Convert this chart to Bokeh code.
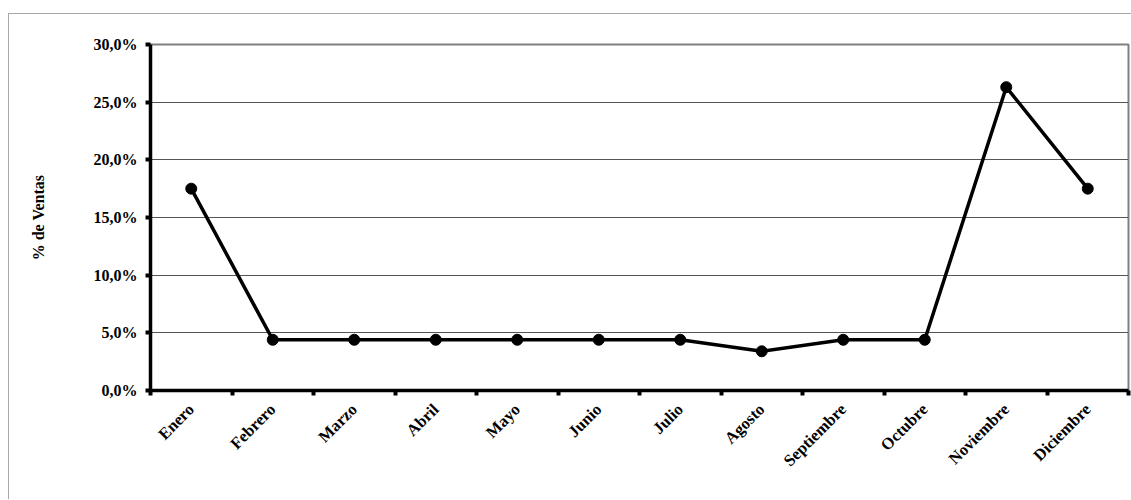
from bokeh.plotting import figure
from bokeh.models import Range1d, FixedTicker, ColumnDataSource
from bokeh.embed import file_html
from bokeh.resources import INLINE

meses = ["Enero", "Febrero", "Marzo", "Abril", "Mayo", "Junio", "Julio",
         "Agosto", "Septiembre", "Octubre", "Noviembre", "Diciembre"]
ventas = [17.5, 4.4, 4.4, 4.4, 4.4, 4.4, 4.4, 3.4, 4.4, 4.4, 26.3, 17.5]
y_ticks = [0, 5, 10, 15, 20, 25, 30]
y_labels = ["0,0%", "5,0%", "10,0%", "15,0%", "20,0%", "25,0%", "30,0%"]

FONT = "Liberation Serif"

x_pos = [i + 0.5 for i in range(len(meses))]
src = ColumnDataSource(dict(x=x_pos, y=ventas, mes=meses))

p = figure(width=1123, height=486, output_backend="svg", toolbar_location=None,
           x_range=Range1d(0, len(meses)), y_range=Range1d(0, 30),
           min_border_left=141, min_border_right=4, min_border_top=30,
           min_border_bottom=110, background_fill_color="white",
           border_fill_color="white")
p.styles = {"margin-left": "8px", "margin-top": "13px",
            "border-left": "1px solid #a8a8a8", "border-top": "1px solid #a8a8a8"}

p.outline_line_color = "#808080"
p.outline_line_width = 2

# line + markers
p.line("x", "y", source=src, line_color="black", line_width=3.5)
p.scatter("x", "y", source=src, size=11, color="black")

# y axis
yax = p.yaxis[0]
yax.ticker = FixedTicker(ticks=y_ticks)
yax.major_label_overrides = {t: l for t, l in zip(y_ticks, y_labels)}
yax.axis_line_width = 3.5
yax.axis_line_color = "black"
yax.major_tick_in = 0
yax.major_tick_out = 5
yax.major_tick_line_width = 4
yax.minor_tick_line_color = None
yax.major_label_text_font = FONT
yax.major_label_text_font_style = "bold"
yax.major_label_text_font_size = "16px"
yax.major_label_text_color = "black"
yax.major_label_standoff = 8
yax.axis_label = "% de Ventas"
yax.axis_label_text_font = FONT
yax.axis_label_text_font_style = "bold"
yax.axis_label_text_font_size = "16px"
yax.axis_label_text_color = "black"
yax.axis_label_standoff = 44

# x axis
xax = p.xaxis[0]
xax.ticker = FixedTicker(ticks=x_pos, minor_ticks=list(range(len(meses) + 1)))
xax.major_label_overrides = {x: m for x, m in zip(x_pos, meses)}
xax.axis_line_width = 3.5
xax.axis_line_color = "black"
xax.major_tick_line_color = None
xax.minor_tick_in = 0
xax.minor_tick_out = 5
xax.minor_tick_line_width = 4
xax.minor_tick_line_color = "black"
xax.major_label_orientation = 0.785398
xax.major_label_text_font = FONT
xax.major_label_text_font_style = "bold"
xax.major_label_text_font_size = "16.5px"
xax.major_label_text_color = "black"
xax.major_label_standoff = 10

p.xgrid.visible = False
p.ygrid.ticker = FixedTicker(ticks=y_ticks)
p.ygrid.grid_line_color = "#555555"
p.ygrid.grid_line_width = 1

open("out.html", "w").write(file_html(p, INLINE))
